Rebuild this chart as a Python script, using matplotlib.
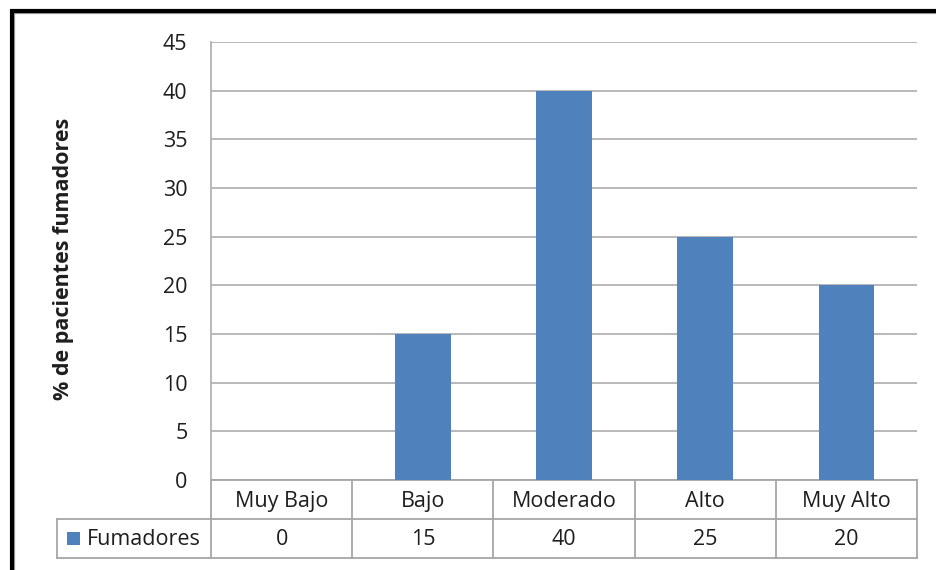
import matplotlib
matplotlib.use("Agg")
import matplotlib.pyplot as plt
from matplotlib.patches import Rectangle
from matplotlib.lines import Line2D

# Data
categories = ["Muy Bajo", "Bajo", "Moderado", "Alto", "Muy Alto"]
fumadores = [0, 15, 40, 25, 20]
series_name = "Fumadores"
y_label = "% de pacientes fumadores"
y_ticks = [0, 5, 10, 15, 20, 25, 30, 35, 40, 45]

BAR_COLOR = "#4F81BD"
GRID_COLOR = "#B3B3B3"
TABLE_COLOR = "#A6A6A6"
TEXT_COLOR = "#1E1E1E"
FONT = ["Open Sans", "DejaVu Sans"]
FS = 15.5

W, H = 937, 570
fig = plt.figure(figsize=(W / 100, H / 100), dpi=100)
fig.patch.set_facecolor("white")

# plot area in pixels
px_left, px_right, px_top, px_bottom = 211, 917, 42, 480
ax = fig.add_axes([px_left / W, 1 - px_bottom / H,
                   (px_right - px_left) / W, (px_bottom - px_top) / H])

x = list(range(len(categories)))
ax.bar(x, fumadores, width=0.395, color=BAR_COLOR, zorder=3)

ax.set_xlim(-0.5, len(categories) - 0.5)
ax.set_ylim(0, 45)
ax.set_yticks(y_ticks)
ax.set_yticklabels([str(t) for t in y_ticks], fontsize=FS, color=TEXT_COLOR,
                   family=FONT)
ax.tick_params(axis="y", length=0, pad=17)
ax.set_xticks([])
ax.yaxis.grid(True, color=GRID_COLOR, linewidth=1.3, zorder=0)
ax.set_axisbelow(True)
for side in ["top", "right"]:
    ax.spines[side].set_visible(False)
ax.spines["left"].set_color(GRID_COLOR)
ax.spines["left"].set_linewidth(1.3)
ax.spines["bottom"].set_color(TABLE_COLOR)
ax.spines["bottom"].set_linewidth(1.3)

fig.text(64 / W, 1 - 259 / H, y_label, rotation=90, ha="center", va="center",
         fontsize=FS, fontweight="bold", color=TEXT_COLOR, family=FONT)

# Data table below the axis (axes-fraction coordinates)
plot_w = px_right - px_left
plot_h = px_bottom - px_top
row_h = 39 / plot_h
leg_left = (57 - px_left) / plot_w
tr = ax.transAxes
n = len(categories)


def hline(x0, x1, y):
    ax.add_line(Line2D([x0, x1], [y, y], transform=tr, color=TABLE_COLOR,
                       linewidth=1.3, clip_on=False))


def vline(xx, y0, y1):
    ax.add_line(Line2D([xx, xx], [y0, y1], transform=tr, color=TABLE_COLOR,
                       linewidth=1.3, clip_on=False))


hline(leg_left, 1, -row_h)
hline(leg_left, 1, -2 * row_h)
vline(leg_left, -row_h, -2 * row_h)
for i in range(n + 1):
    vline(i / n, 0, -2 * row_h)

for i, (cat, val) in enumerate(zip(categories, fumadores)):
    cx = (i + 0.5) / n
    ax.text(cx, -0.5 * row_h - 2 / plot_h, cat, transform=tr, ha="center",
            va="center", fontsize=FS, color=TEXT_COLOR, family=FONT)
    ax.text(cx, -1.5 * row_h - 1 / plot_h, str(val), transform=tr,
            ha="center", va="center", fontsize=FS, color=TEXT_COLOR,
            family=FONT)

# legend key inside the table
sq = 13
ax.add_patch(Rectangle(((67 - px_left) / plot_w, -1.5 * row_h - (sq / 2) / plot_h),
                       sq / plot_w, sq / plot_h, transform=tr,
                       facecolor=BAR_COLOR, edgecolor="none", clip_on=False))
ax.text((87 - px_left) / plot_w, -1.5 * row_h - 1 / plot_h, series_name,
        transform=tr, ha="left", va="center", fontsize=FS, color=TEXT_COLOR,
        family=FONT)

# Chart frame with soft shadow
fig.patches.append(Rectangle((14 / W, -0.1), 2.0, 1 - 13 / H + 0.1,
                             transform=fig.transFigure, fill=False,
                             edgecolor="#A0A0A0", linewidth=1.6))
fig.patches.append(Rectangle((12 / W, -0.1), 2.0, 1 - 11 / H + 0.1,
                             transform=fig.transFigure, fill=False,
                             edgecolor="black", linewidth=3.0))

fig.savefig("out.png", dpi=100, facecolor="white")
